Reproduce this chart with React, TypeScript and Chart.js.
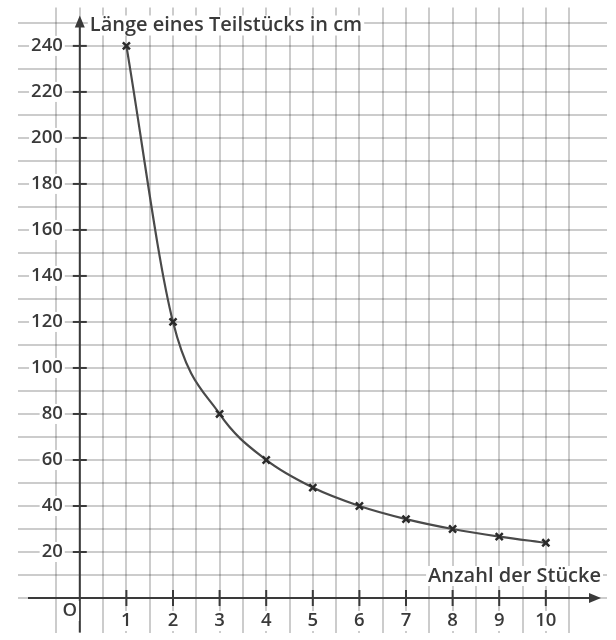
import React, { useEffect, useRef } from "react";
import { Chart, registerables } from "chart.js";

Chart.register(...registerables);

// ---- data ----
const pieces = [1, 2, 3, 4, 5, 6, 7, 8, 9, 10];
const lengths = [240, 120, 80, 60, 48, 40, 34.3, 30, 26.7, 24];
const yTickValues = [20, 40, 60, 80, 100, 120, 140, 160, 180, 200, 220, 240];
const xTickValues = [1, 2, 3, 4, 5, 6, 7, 8, 9, 10];
const yTitle = "Länge eines Teilstücks in cm";
const xTitle = "Anzahl der Stücke";
const originLabel = "O";

// ---- styles ----
const TITLE_FONT = '600 20px "Open Sans"';
const NUM_FONT = '600 18.5px "Open Sans"';
const INK = "#3a3a3a";
const GRID = "rgba(0,0,0,0.2)";

function isHalfStep(v: number) {
  return Math.abs(v * 2 - Math.round(v * 2)) < 1e-6;
}
function isTenStep(v: number) {
  return Math.abs(v / 10 - Math.round(v / 10)) < 1e-6;
}

function labelWithBg(
  ctx: CanvasRenderingContext2D,
  text: string,
  x: number,
  y: number,
  align: CanvasTextAlign,
  font: string
) {
  ctx.font = font;
  ctx.textAlign = align;
  ctx.textBaseline = "middle";
  const w = ctx.measureText(text).width;
  const left = align === "left" ? x : align === "right" ? x - w : x - w / 2;
  ctx.fillStyle = "#ffffff";
  ctx.fillRect(left - 2, y - 10, w + 4, 20);
  ctx.fillStyle = INK;
  ctx.fillText(text, x, y);
}

const axesPlugin = {
  id: "customAxes",
  beforeDatasetsDraw(chart: any) {
    const { ctx, chartArea, scales } = chart;
    const xs = scales.x;
    const ys = scales.y;
    const x0 = xs.getPixelForValue(0);
    const y0 = ys.getPixelForValue(0);
    ctx.save();
    ctx.strokeStyle = INK;
    ctx.fillStyle = INK;
    ctx.lineWidth = 2;

    // x axis
    const xTip = chartArea.right - 6;
    ctx.beginPath();
    ctx.moveTo(chartArea.left + 10, y0);
    ctx.lineTo(xTip - 6, y0);
    ctx.stroke();
    ctx.beginPath();
    ctx.moveTo(xTip, y0);
    ctx.lineTo(xTip - 12, y0 - 5);
    ctx.lineTo(xTip - 12, y0 + 5);
    ctx.closePath();
    ctx.fill();

    // y axis
    const yTip = chartArea.top + 8;
    ctx.beginPath();
    ctx.moveTo(x0, chartArea.bottom);
    ctx.lineTo(x0, yTip + 6);
    ctx.stroke();
    ctx.beginPath();
    ctx.moveTo(x0, yTip);
    ctx.lineTo(x0 - 5, yTip + 12);
    ctx.lineTo(x0 + 5, yTip + 12);
    ctx.closePath();
    ctx.fill();

    // ticks
    yTickValues.forEach((v) => {
      const py = ys.getPixelForValue(v);
      ctx.beginPath();
      ctx.moveTo(x0 - 7, py);
      ctx.lineTo(x0 + 7, py);
      ctx.stroke();
    });
    xTickValues.forEach((v) => {
      const px = xs.getPixelForValue(v);
      ctx.beginPath();
      ctx.moveTo(px, y0 - 8);
      ctx.lineTo(px, y0 + 8);
      ctx.stroke();
    });

    // labels
    yTickValues.forEach((v) => {
      labelWithBg(ctx, String(v), x0 - 17, ys.getPixelForValue(v), "right", NUM_FONT);
    });
    xTickValues.forEach((v) => {
      labelWithBg(ctx, String(v), xs.getPixelForValue(v), y0 + 23, "center", NUM_FONT);
    });
    labelWithBg(ctx, originLabel, x0 - 10, y0 + 13, "center", NUM_FONT);
    labelWithBg(ctx, yTitle, x0 + 10, chartArea.top + 18, "left", TITLE_FONT);
    labelWithBg(ctx, xTitle, chartArea.right - 6, y0 - 22, "right", TITLE_FONT);

    ctx.restore();
  },
};

export default function App() {
  const canvasRef = useRef<HTMLCanvasElement | null>(null);

  useEffect(() => {
    if (!canvasRef.current) return;
    const chart = new Chart(canvasRef.current, {
      type: "line",
      data: {
        datasets: [
          {
            data: pieces.map((p, i) => ({ x: p, y: lengths[i] })),
            borderColor: "#4a4a4a",
            borderWidth: 2.2,
            cubicInterpolationMode: "monotone",
            pointStyle: "crossRot",
            pointRadius: 5,
            pointBorderWidth: 2.5,
            pointBorderColor: "#2a2a2a",
            pointBackgroundColor: "#2a2a2a",
            fill: false,
          },
        ],
      },
      options: {
        responsive: false,
        animation: false,
        layout: { padding: { left: 18, right: 9, top: 7, bottom: 0 } },
        plugins: {
          legend: { display: false },
          tooltip: { enabled: false },
        },
        scales: {
          x: {
            type: "linear",
            min: -1.326,
            max: 11.313,
            ticks: { display: false, stepSize: 0.5 },
            grid: {
              color: (c: any) => (isHalfStep(c.tick.value) ? GRID : "rgba(0,0,0,0)"),
              lineWidth: 2,
              drawTicks: false,
            },
            border: { display: false },
          },
          y: {
            type: "linear",
            min: -15.0,
            max: 256.7,
            ticks: { display: false, stepSize: 10 },
            grid: {
              color: (c: any) => (isTenStep(c.tick.value) ? GRID : "rgba(0,0,0,0)"),
              lineWidth: 2,
              drawTicks: false,
            },
            border: { display: false },
          },
        },
      },
      plugins: [axesPlugin],
    } as any);
    return () => chart.destroy();
  }, []);

  return (
    <div style={{ position: "fixed", left: 0, top: 0, width: 616, height: 640, background: "#fff" }}>
      <canvas ref={canvasRef} width={616} height={640} />
    </div>
  );
}
